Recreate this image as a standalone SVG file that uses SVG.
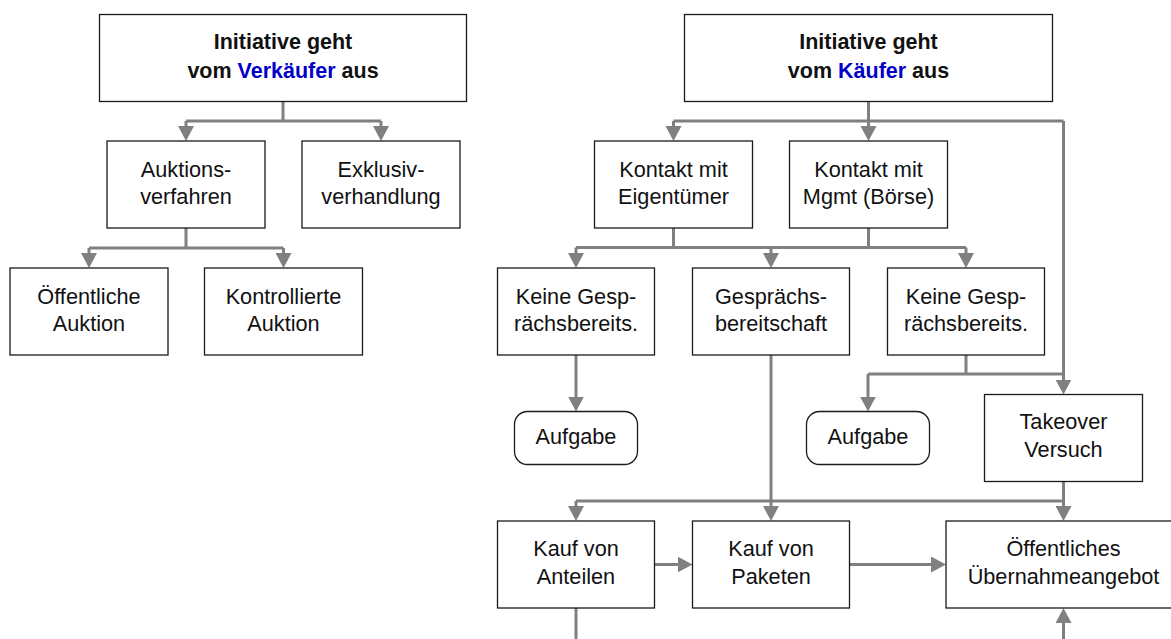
<svg xmlns="http://www.w3.org/2000/svg" width="1171" height="639" viewBox="0 0 1171 639">
<style>
.box{fill:#fff;stroke:#1a1a1a;stroke-width:1.3}
.t{font-family:"Liberation Sans",Arial,sans-serif;font-size:21.7px;fill:#111;text-anchor:middle}
.b{font-weight:bold;font-size:21.5px}
.blue{fill:#0000C8}
.c{fill:none;stroke:#808080;stroke-width:3}
.a{marker-end:url(#ah)}
</style>
<defs>
<marker id="ah" markerUnits="userSpaceOnUse" viewBox="0 0 15 16" refX="11" refY="8" markerWidth="15" markerHeight="16" orient="auto">
<path d="M0,0 L15,8 L0,16 z" fill="#808080"/>
</marker>
</defs>
<rect width="1171" height="639" fill="#fff"/>

<g id="connectors">
<path class="c" d="M283,101.5 V121 M186,121 H381"/>
<path class="c a" d="M186,121 V137"/>
<path class="c a" d="M381,121 V137"/>
<path class="c" d="M186,228 V248 M89,248 H283.5"/>
<path class="c a" d="M89,248 V264"/>
<path class="c a" d="M283.5,248 V264"/>
<path class="c" d="M868.5,101.5 V121 M673.5,121 H1063.5"/>
<path class="c a" d="M673.5,121 V137"/>
<path class="c a" d="M868.5,121 V137"/>
<path class="c a" d="M1063.5,121 V390.5"/>
<path class="c" d="M673.5,228 V247.5 M868.5,228 V247.5 M576,247.5 H966"/>
<path class="c a" d="M576,247.5 V264"/>
<path class="c a" d="M771,247.5 V264"/>
<path class="c a" d="M966,247.5 V264"/>
<path class="c a" d="M576,355 V407.5"/>
<path class="c a" d="M771,355 V517"/>
<path class="c" d="M966,355 V374 M868,374 H1063.5"/>
<path class="c a" d="M868,374 V407.5"/>
<path class="c" d="M576,501 H1063.5"/>
<path class="c a" d="M576,501 V517"/>
<path class="c a" d="M1063.5,481.5 V517"/>
<path class="c a" d="M654.5,564.5 H688.5"/>
<path class="c a" d="M849.5,564.5 H942"/>
<path class="c" d="M576,608 V645"/>
<path class="c a" d="M1063.5,645 V612"/>
</g>

<g id="n-verkaeufer">
<rect class="box" x="99.5" y="14.5" width="367" height="87"/>
<text class="t b" x="283" y="48.5">Initiative geht</text>
<text class="t b" x="283" y="78">vom <tspan class="blue">Verkäufer</tspan> aus</text>
</g>
<g id="n-kaeufer">
<rect class="box" x="684.5" y="14.5" width="368" height="87"/>
<text class="t b" x="868.5" y="48.5">Initiative geht</text>
<text class="t b" x="868.5" y="78">vom <tspan class="blue">Käufer</tspan> aus</text>
</g>

<g id="n-auktionsverfahren">
<rect class="box" x="107" y="141" width="158" height="87"/>
<text class="t" x="186" y="176.5">Auktions-</text>
<text class="t" x="186" y="204">verfahren</text>
</g>
<g id="n-exklusiv">
<rect class="box" x="302" y="141" width="158" height="87"/>
<text class="t" x="381" y="176.5">Exklusiv-</text>
<text class="t" x="381" y="204">verhandlung</text>
</g>
<g id="n-eigentuemer">
<rect class="box" x="594.5" y="141" width="158" height="87"/>
<text class="t" x="673.5" y="176.5">Kontakt mit</text>
<text class="t" x="673.5" y="204">Eigentümer</text>
</g>
<g id="n-mgmt">
<rect class="box" x="789.5" y="141" width="158" height="87"/>
<text class="t" x="868.5" y="176.5">Kontakt mit</text>
<text class="t" x="868.5" y="204">Mgmt (Börse)</text>
</g>

<g id="n-oeff-auktion">
<rect class="box" x="10" y="268" width="158" height="87"/>
<text class="t" x="89" y="303.5">Öffentliche</text>
<text class="t" x="89" y="331">Auktion</text>
</g>
<g id="n-kontr-auktion">
<rect class="box" x="204.5" y="268" width="158" height="87"/>
<text class="t" x="283.5" y="303.5">Kontrollierte</text>
<text class="t" x="283.5" y="331">Auktion</text>
</g>
<g id="n-keine1">
<rect class="box" x="497.5" y="268" width="157" height="87"/>
<text class="t" x="576" y="303.5">Keine Gesp-</text>
<text class="t" x="576" y="331">rächsbereits.</text>
</g>
<g id="n-gespraech">
<rect class="box" x="692.5" y="268" width="157" height="87"/>
<text class="t" x="771" y="303.5">Gesprächs-</text>
<text class="t" x="771" y="331">bereitschaft</text>
</g>
<g id="n-keine2">
<rect class="box" x="887.5" y="268" width="157" height="87"/>
<text class="t" x="966" y="303.5">Keine Gesp-</text>
<text class="t" x="966" y="331">rächsbereits.</text>
</g>

<g id="n-aufgabe1">
<rect class="box" x="514.5" y="411.5" width="123" height="53" rx="13"/>
<text class="t" x="576" y="443.5">Aufgabe</text>
</g>
<g id="n-aufgabe2">
<rect class="box" x="806.5" y="411.5" width="123" height="53" rx="13"/>
<text class="t" x="868" y="443.5">Aufgabe</text>
</g>
<g id="n-takeover">
<rect class="box" x="984.5" y="394.5" width="158" height="87"/>
<text class="t" x="1063.5" y="429">Takeover</text>
<text class="t" x="1063.5" y="457">Versuch</text>
</g>

<g id="n-anteilen">
<rect class="box" x="497.5" y="521" width="157" height="87"/>
<text class="t" x="576" y="555.5">Kauf von</text>
<text class="t" x="576" y="583.5">Anteilen</text>
</g>
<g id="n-paketen">
<rect class="box" x="692.5" y="521" width="157" height="87"/>
<text class="t" x="771" y="555.5">Kauf von</text>
<text class="t" x="771" y="583.5">Paketen</text>
</g>
<g id="n-uebernahme">
<rect class="box" x="946" y="521" width="235" height="87"/>
<text class="t" x="1063.5" y="555.5">Öffentliches</text>
<text class="t" x="1063.5" y="583.5">Übernahmeangebot</text>
</g>
</svg>
